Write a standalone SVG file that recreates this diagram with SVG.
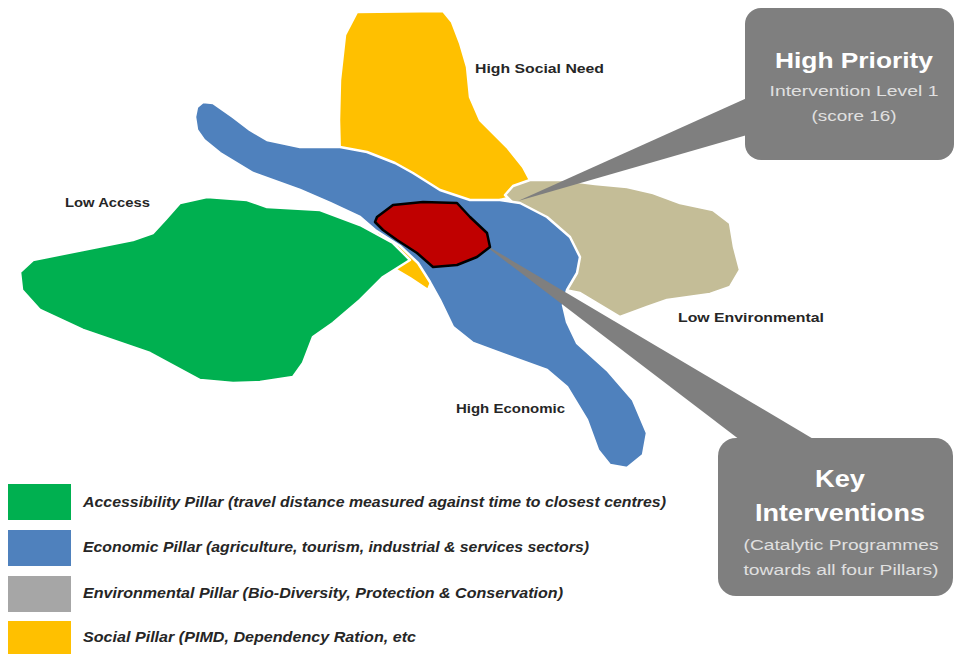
<svg xmlns="http://www.w3.org/2000/svg" width="954" height="654" viewBox="0 0 954 654">
<style>
.blob{stroke:#ffffff;stroke-width:2.5;stroke-linejoin:round}
.lbl{font-family:"Liberation Sans",Arial,sans-serif;font-weight:bold;font-size:13.5px;fill:#262626}
.leg{font-family:"Liberation Sans",Arial,sans-serif;font-weight:bold;font-style:italic;font-size:14px;fill:#262626}
.box{fill:#7f7f7f}
.t1{font-family:"Liberation Sans",Arial,sans-serif;font-weight:bold;fill:#ffffff;text-anchor:middle}
.t2{font-family:"Liberation Sans",Arial,sans-serif;fill:#e0e0e0;text-anchor:middle;font-size:15.5px}
</style>
<rect width="954" height="654" fill="#ffffff"/>
<g id="social">
<path class="blob" fill="#ffc000" d="M357,12 L443,11 L452,22 L460,43 L467,67 L470,97 L480,120 L507,147 L523,167 L531,182 L520,195 L500,200 L470,220 L440,260 L428,290 L410,278 L393,268 L380,240 L360,200 L340,160 L339,120 L340,80 L345,35 Z"/>
</g>
<g id="environmental">
<path class="blob" fill="#c4bd97" d="M505,195 L513,186 L530,180 L563,180 L595,184 L627,187 L653,193 L680,203 L713,210 L730,223 L734,247 L740,270 L730,287 L710,294 L667,300 L647,307 L620,317 L600,305 L580,293 L565,290 L560,250 Z"/>
</g>
<g id="economic">
<path class="blob" fill="#4f81bd" d="M197,107 L203,102 L213,103 L233,117 L250,130 L267,140 L300,147 L340,147 L367,152 L395,163 L413,173 L440,190 L470,200 L500,200 L520,203 L547,217 L570,237 L580,257 L577,273 L567,290 L563,305 L567,322 L577,343 L607,370 L633,400 L647,433 L643,455 L627,468 L610,465 L598,450 L587,420 L567,387 L547,370 L500,353 L473,343 L453,327 L440,300 L430,282 L418,263 L400,246 L375,230 L360,217 L330,203 L300,190 L253,173 L220,153 L204,140 L197,130 L195,117 Z"/>
</g>
<g id="accessibility">
<path class="blob" fill="#00b050" d="M153,233 L165,220 L180,203 L207,197 L247,200 L267,207 L320,210 L360,225 L393,243 L410,260 L383,277 L360,300 L333,323 L313,337 L303,363 L293,377 L260,382 L233,383 L200,380 L150,353 L83,330 L40,310 L22,290 L20,272 L33,260 L83,250 L133,240 Z"/>
</g>
<g id="connectors">
<polygon class="box" points="747,98 747,135 518,201"/>
<polygon class="box" points="740,440 815,440 479,241"/>
</g>
<g id="priority-zone">
<path fill="#c00000" stroke="#000000" stroke-width="2.5" stroke-linejoin="round" d="M377,217 L393,205 L423,202 L457,203 L470,217 L487,233 L490,247 L477,257 L457,265 L433,267 L417,253 L397,240 L383,230 L375,222 Z"/>
</g>
<g id="labels">
<text class="lbl" x="475" y="73" textLength="129" lengthAdjust="spacingAndGlyphs">High Social Need</text>
<text class="lbl" x="65" y="207" textLength="85" lengthAdjust="spacingAndGlyphs">Low Access</text>
<text class="lbl" x="678" y="322" textLength="146" lengthAdjust="spacingAndGlyphs">Low Environmental</text>
<text class="lbl" x="456" y="413" textLength="109" lengthAdjust="spacingAndGlyphs">High Economic</text>
</g>
<g id="high-priority">
<rect class="box" x="745" y="8" width="209" height="152" rx="16"/>
<text class="t1" x="854" y="68" font-size="22" textLength="158" lengthAdjust="spacingAndGlyphs">High Priority</text>
<text class="t2" x="854" y="96" textLength="169" lengthAdjust="spacingAndGlyphs">Intervention Level 1</text>
<text class="t2" x="854" y="121" textLength="85" lengthAdjust="spacingAndGlyphs">(score 16)</text>
</g>
<g id="key-interventions">
<rect class="box" x="718" y="438" width="235" height="158" rx="18"/>
<text class="t1" x="840" y="487" font-size="24" textLength="50" lengthAdjust="spacingAndGlyphs">Key</text>
<text class="t1" x="840" y="521" font-size="24" textLength="170" lengthAdjust="spacingAndGlyphs">Interventions</text>
<text class="t2" x="841" y="550" textLength="195" lengthAdjust="spacingAndGlyphs">(Catalytic Programmes</text>
<text class="t2" x="841" y="575" textLength="195" lengthAdjust="spacingAndGlyphs">towards all four Pillars)</text>
</g>
<g id="legend">
<rect x="8" y="484" width="63" height="36" fill="#00b050"/>
<rect x="8" y="530" width="63" height="36" fill="#4f81bd"/>
<rect x="8" y="576" width="63" height="36" fill="#a6a6a6"/>
<rect x="8" y="621" width="63" height="33" fill="#ffc000"/>
<text class="leg" x="83" y="507" textLength="583" lengthAdjust="spacingAndGlyphs">Accessibility Pillar (travel distance measured against time to closest centres)</text>
<text class="leg" x="83" y="552" textLength="506" lengthAdjust="spacingAndGlyphs">Economic Pillar (agriculture, tourism, industrial &amp; services sectors)</text>
<text class="leg" x="83" y="598" textLength="480" lengthAdjust="spacingAndGlyphs">Environmental Pillar (Bio-Diversity, Protection &amp; Conservation)</text>
<text class="leg" x="83" y="642" textLength="333" lengthAdjust="spacingAndGlyphs">Social Pillar (PIMD, Dependency Ration, etc</text>
</g>
</svg>
